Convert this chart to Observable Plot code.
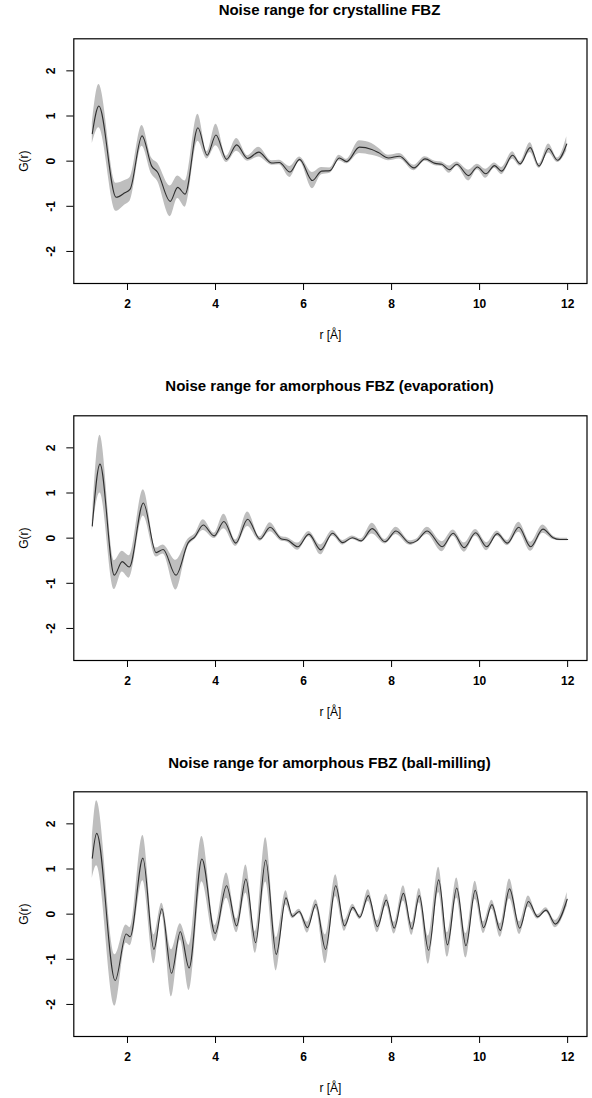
<!DOCTYPE html>
<html>
<head>
<meta charset="utf-8">
<script src="https://cdn.jsdelivr.net/npm/d3@7"></script>
<script src="https://cdn.jsdelivr.net/npm/@observablehq/plot@0.6"></script>
<style>
  html, body { margin: 0; padding: 0; background: #fff; }
  #chart { position: relative; width: 592px; height: 1098px; overflow: hidden; font-family: "Liberation Sans", Arial, sans-serif; }
  .title { position: absolute; left: 0; width: 659px; text-align: center; font-weight: bold; font-size: 15px; line-height: 16px; color: #000; }
  .panel { position: absolute; left: 0; }
</style>
</head>
<body>
<div id="chart"></div>
<script>
// ---- tick labels ----
const xTicks = [2, 4, 6, 8, 10, 12];
const yTicks = [-2, -1, 0, 1, 2];
const titles = [
  "Noise range for crystalline FBZ",
  "Noise range for amorphous FBZ (evaporation)",
  "Noise range for amorphous FBZ (ball-milling)"
];

// ---- panel 1: crystalline ----
const r1 = [1.20, 1.35, 1.74, 1.94, 2.06, 2.33, 2.55, 2.68, 2.97, 3.14, 3.31, 3.60, 3.81, 4.01, 4.25, 4.48, 4.73, 4.98, 5.28, 5.45, 5.69, 5.91, 6.20, 6.41, 6.60, 6.81, 6.98, 7.27, 7.55, 7.70, 7.93, 8.18, 8.51, 8.76, 8.99, 9.14, 9.31, 9.48, 9.75, 9.95, 10.14, 10.34, 10.50, 10.75, 10.92, 11.15, 11.35, 11.57, 11.77, 11.98];
const g1 = [0.61, 1.22, -0.80, -0.70, -0.62, 0.56, -0.11, -0.24, -0.89, -0.58, -0.73, 0.74, 0.13, 0.58, 0.04, 0.36, 0.06, 0.20, -0.04, -0.03, -0.24, 0.04, -0.43, -0.22, -0.21, 0.07, -0.01, 0.31, 0.26, 0.19, 0.07, 0.11, -0.15, 0.05, -0.05, -0.07, -0.19, -0.07, -0.32, -0.13, -0.28, -0.10, -0.22, 0.13, -0.06, 0.30, -0.11, 0.28, 0.02, 0.38];
const hi1 = [0.83, 1.70, -0.49, -0.43, -0.36, 0.79, 0.07, -0.04, -0.55, -0.33, -0.44, 1.04, 0.21, 0.82, 0.11, 0.50, 0.12, 0.31, 0.01, 0.02, -0.12, 0.09, -0.25, -0.14, -0.15, 0.13, 0.04, 0.45, 0.39, 0.29, 0.13, 0.17, -0.09, 0.10, 0.00, -0.02, -0.11, -0.02, -0.20, -0.07, -0.18, -0.04, -0.14, 0.21, -0.01, 0.41, -0.06, 0.38, 0.07, 0.54];
const lo1 = [0.39, 0.74, -1.11, -0.97, -0.88, 0.33, -0.29, -0.44, -1.23, -0.83, -1.02, 0.44, 0.05, 0.34, -0.03, 0.22, 0.00, 0.09, -0.09, -0.08, -0.36, -0.01, -0.61, -0.30, -0.27, 0.01, -0.06, 0.17, 0.13, 0.09, 0.01, 0.05, -0.21, 0.00, -0.10, -0.12, -0.27, -0.12, -0.44, -0.19, -0.38, -0.16, -0.30, 0.05, -0.11, 0.19, -0.16, 0.18, -0.03, 0.22];

// ---- panel 2: amorphous (evaporation) ----
const r2 = [1.20, 1.375, 1.70, 1.88, 2.04, 2.36, 2.65, 2.81, 3.10, 3.38, 3.53, 3.72, 3.97, 4.19, 4.46, 4.73, 5.01, 5.24, 5.50, 5.63, 5.87, 6.12, 6.39, 6.66, 6.89, 7.11, 7.31, 7.56, 7.85, 8.10, 8.42, 8.57, 8.81, 9.15, 9.40, 9.65, 9.91, 10.16, 10.40, 10.63, 10.89, 11.16, 11.44, 11.67, 11.83, 12.00];
const g2 = [0.27, 1.64, -0.82, -0.52, -0.64, 0.78, -0.32, -0.25, -0.82, -0.10, 0.03, 0.29, 0.05, 0.37, -0.11, 0.42, -0.02, 0.24, -0.02, -0.04, -0.19, 0.09, -0.26, 0.11, -0.10, 0.01, -0.06, 0.21, -0.08, 0.16, -0.11, -0.06, 0.16, -0.19, 0.11, -0.21, 0.12, -0.19, 0.10, -0.11, 0.24, -0.19, 0.20, 0.01, -0.03, -0.03];
const hi2 = [0.38, 2.28, -0.50, -0.29, -0.39, 1.07, -0.22, -0.15, -0.49, -0.02, 0.09, 0.41, 0.11, 0.53, -0.04, 0.58, 0.03, 0.34, 0.03, 0.01, -0.11, 0.15, -0.15, 0.17, -0.05, 0.05, -0.02, 0.33, -0.03, 0.24, -0.06, -0.02, 0.24, -0.08, 0.18, -0.11, 0.19, -0.10, 0.16, -0.05, 0.35, -0.09, 0.29, 0.05, 0.00, 0.00];
const lo2 = [0.16, 1.00, -1.14, -0.75, -0.89, 0.49, -0.42, -0.35, -1.15, -0.18, -0.03, 0.17, -0.01, 0.21, -0.18, 0.26, -0.07, 0.14, -0.07, -0.09, -0.27, 0.03, -0.37, 0.05, -0.15, -0.03, -0.10, 0.09, -0.13, 0.08, -0.16, -0.10, 0.08, -0.30, 0.04, -0.31, 0.05, -0.28, 0.04, -0.17, 0.13, -0.29, 0.11, -0.03, -0.06, -0.06];

// ---- panel 3: amorphous (ball-milling) ----
const r3 = [1.20, 1.30, 1.72, 1.97, 2.06, 2.35, 2.60, 2.78, 3.00, 3.20, 3.40, 3.69, 3.99, 4.25, 4.48, 4.69, 4.91, 5.14, 5.38, 5.60, 5.75, 5.90, 6.09, 6.28, 6.50, 6.73, 6.93, 7.12, 7.28, 7.47, 7.68, 7.88, 8.06, 8.27, 8.46, 8.63, 8.84, 9.07, 9.27, 9.48, 9.69, 9.90, 10.09, 10.28, 10.47, 10.68, 10.91, 11.11, 11.32, 11.51, 11.72, 11.99];
const g3 = [1.24, 1.79, -1.47, -0.44, -0.50, 1.24, -0.78, 0.12, -1.31, -0.39, -1.19, 1.22, -0.43, 0.63, -0.26, 0.78, -0.63, 1.20, -0.89, 0.36, -0.05, 0.06, -0.30, 0.22, -0.78, 0.63, -0.26, 0.15, -0.07, 0.41, -0.28, 0.31, -0.31, 0.46, -0.33, 0.41, -0.80, 0.76, -0.68, 0.58, -0.70, 0.53, -0.30, 0.21, -0.36, 0.56, -0.31, 0.28, -0.06, 0.09, -0.22, 0.33];
const hi3 = [1.69, 2.51, -0.90, -0.24, -0.30, 1.74, -0.46, 0.24, -0.79, -0.21, -0.69, 1.72, -0.25, 0.91, -0.11, 1.09, -0.39, 1.69, -0.52, 0.52, 0.00, 0.11, -0.18, 0.32, -0.46, 0.87, -0.14, 0.22, -0.02, 0.54, -0.15, 0.44, -0.18, 0.63, -0.19, 0.57, -0.49, 1.04, -0.41, 0.80, -0.43, 0.73, -0.17, 0.31, -0.21, 0.78, -0.17, 0.40, -0.01, 0.14, -0.14, 0.48];
const lo3 = [0.79, 1.07, -2.04, -0.64, -0.70, 0.74, -1.10, 0.00, -1.83, -0.57, -1.69, 0.72, -0.61, 0.35, -0.41, 0.47, -0.87, 0.71, -1.26, 0.20, -0.10, 0.01, -0.42, 0.12, -1.10, 0.39, -0.38, 0.08, -0.12, 0.28, -0.41, 0.18, -0.44, 0.29, -0.47, 0.25, -1.11, 0.48, -0.95, 0.36, -0.97, 0.33, -0.43, 0.11, -0.51, 0.34, -0.45, 0.16, -0.11, 0.04, -0.30, 0.18];

const panels = [
  {r: r1, g: g1, hi: hi1, lo: lo1},
  {r: r2, g: g2, hi: hi2, lo: lo2},
  {r: r3, g: g3, hi: hi3, lo: lo3}
];

const chart = document.getElementById("chart");
const panelStep = 376.7;
const font = "'Liberation Sans', Arial, sans-serif";

panels.forEach((p, i) => {
  const data = p.r.map((r, k) => ({r, g: p.g[k], hi: p.hi[k], lo: p.lo[k]}));
  const top = i * panelStep;

  const t = document.createElement("div");
  t.className = "title";
  t.style.top = (top + 1.5) + "px";
  t.textContent = titles[i];
  chart.appendChild(t);

  const svg = Plot.plot({
    width: 592,
    height: 345,
    marginTop: 38.3,
    marginBottom: 62,
    marginLeft: 73.3,
    marginRight: 5.5,
    style: {fontFamily: font, fontSize: "12px", color: "#000", background: "transparent"},
    x: {domain: [0.78, 12.44]},
    y: {domain: [-2.71, 2.71]},
    marks: [
      Plot.areaY(data, {x: "r", y1: "lo", y2: "hi", fill: "#bebebe", curve: "monotone-x"}),
      Plot.lineY(data, {x: "r", y: "g", stroke: "#2e2e2e", strokeWidth: 1.1, curve: "monotone-x"}),
      Plot.frame({stroke: "#000", strokeWidth: 1.2}),
      Plot.axisX({ticks: xTicks, tickSize: 7, tickPadding: 9, fontWeight: "bold", fontSize: 12, label: null, tickFormat: d => String(d)}),
      Plot.axisY({ticks: yTicks, tickSize: 7, text: null, label: null}),
      Plot.text(yTicks, {y: d => d, text: d => String(d), frameAnchor: "left", dx: -23, rotate: -90, textAnchor: "middle", lineAnchor: "middle", fontWeight: "bold", fontSize: 12}),
      Plot.text(["G(r)"], {text: d => d, frameAnchor: "left", dx: -50, rotate: -90, textAnchor: "middle", lineAnchor: "middle", fontSize: 12}),
      Plot.text(["r [Å]"], {text: d => d, frameAnchor: "bottom", dy: 51.6, textAnchor: "middle", lineAnchor: "middle", fontSize: 12})
    ]
  });
  svg.classList.add("panel");
  svg.style.top = top + "px";
  chart.appendChild(svg);
});
</script>
</body>
</html>
